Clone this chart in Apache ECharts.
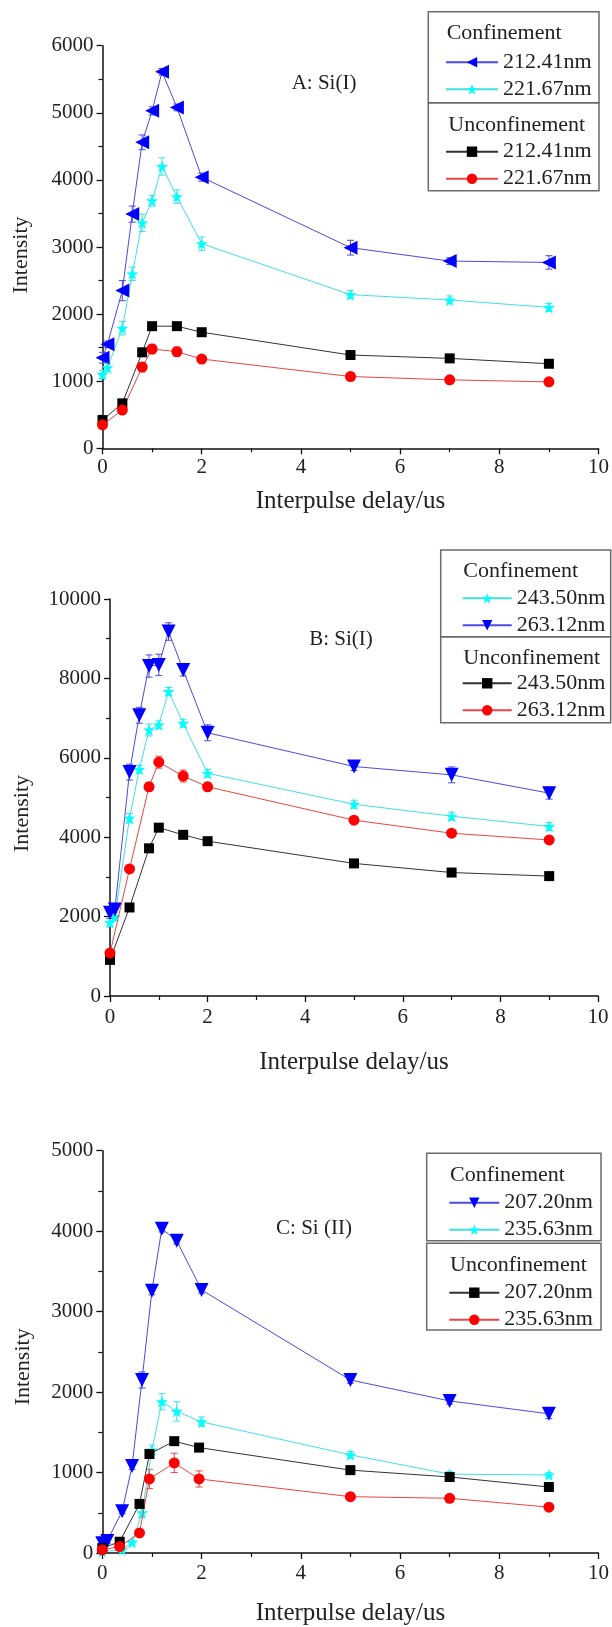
<!DOCTYPE html>
<html>
<head>
<meta charset="utf-8">
<script src="https://cdn.jsdelivr.net/npm/echarts@6/dist/echarts.min.js"></script>
<style>
html,body{margin:0;padding:0;background:#fff;}
#chart{width:612px;height:1627px;}
</style>
</head>
<body>
<div id="chart"></div>
<script>
// ---------------- DATA ----------------
const xTicks = [0, 2, 4, 6, 8, 10];
const xTitle = 'Interpulse delay/us';
const yTitle = 'Intensity';

// Panel A: Si(I)
const A_label = 'A: Si(I)';
const A_waves = ['212.41nm', '221.67nm'];
const A_x_conf = [0, 0.1, 0.4, 0.6, 0.8, 1.0, 1.2, 1.5, 2, 5, 7, 9];
const A_conf_212 = [1350, 1550, 2350, 3490, 4560, 5030, 5610, 5080, 4040, 2990, 2790, 2770];
const A_conf_212_err = [80, 50, 150, 120, 110, 60, 50, 50, 60, 110, 50, 100];
const A_conf_221 = [1100, 1200, 1790, 2600, 3360, 3690, 4200, 3750, 3050, 2290, 2210, 2100];
const A_conf_221_err = [60, 60, 100, 100, 130, 80, 130, 100, 100, 60, 60, 60];
const A_x_unc = [0, 0.4, 0.8, 1.0, 1.5, 2, 5, 7, 9];
const A_unc_212 = [420, 670, 1430, 1820, 1820, 1730, 1390, 1340, 1260];
const A_unc_212_err = [40, 40, 60, 50, 50, 40, 40, 40, 40];
const A_unc_221 = [350, 570, 1210, 1480, 1440, 1330, 1070, 1020, 990];
const A_unc_221_err = [40, 40, 70, 70, 70, 50, 40, 40, 40];

// Panel B: Si(I)
const B_label = 'B: Si(I)';
const B_waves = ['243.50nm', '263.12nm'];
const B_x_conf = [0, 0.1, 0.4, 0.6, 0.8, 1.0, 1.2, 1.5, 2, 5, 7, 9];
const B_conf_243 = [1850, 2000, 4480, 5710, 6700, 6830, 7670, 6870, 5610, 4830, 4530, 4270];
const B_conf_243_err = [100, 100, 120, 100, 150, 100, 100, 100, 100, 100, 100, 100];
const B_conf_263 = [2100, 2180, 5640, 7070, 8310, 8340, 9180, 8210, 6630, 5780, 5570, 5110];
const B_conf_263_err = [150, 150, 200, 200, 280, 270, 220, 150, 200, 100, 200, 150];
const B_x_unc = [0, 0.4, 0.8, 1.0, 1.5, 2, 5, 7, 9];
const B_unc_243 = [910, 2230, 3720, 4240, 4060, 3900, 3340, 3110, 3020];
const B_unc_243_err = [50, 50, 60, 60, 60, 50, 50, 50, 50];
const B_unc_263 = [1080, 3200, 5270, 5890, 5540, 5270, 4430, 4100, 3930];
const B_unc_263_err = [80, 80, 100, 150, 150, 100, 80, 80, 80];

// Panel C: Si (II)
const C_label = 'C: Si (II)';
const C_waves = ['207.20nm', '235.63nm'];
const C_x_conf_207 = [0, 0.1, 0.4, 0.6, 0.8, 1.0, 1.2, 1.5, 2, 5, 7, 9];
const C_conf_207 = [120, 150, 520, 1080, 2150, 3260, 4030, 3880, 3270, 2150, 1890, 1730];
const C_conf_207_err = [30, 30, 30, 40, 100, 50, 40, 40, 40, 40, 40, 60];
const C_x_conf_235 = [0, 0.4, 0.6, 0.8, 1.0, 1.2, 1.5, 2, 5, 7, 9];
const C_conf_235 = [20, 40, 130, 500, 1280, 1880, 1760, 1630, 1220, 980, 970];
const C_conf_235_err = [20, 20, 30, 60, 60, 100, 120, 60, 40, 30, 30];
const C_x_unc = [0, 0.35, 0.75, 0.95, 1.45, 1.95, 5, 7, 9];
const C_unc_207 = [60, 140, 610, 1230, 1390, 1310, 1030, 945, 820];
const C_unc_207_err = [20, 20, 30, 40, 30, 30, 30, 30, 30];
const C_unc_235 = [40, 80, 250, 920, 1120, 920, 700, 680, 570];
const C_unc_235_err = [20, 20, 30, 120, 120, 100, 30, 30, 30];

// ---------------- STYLE ----------------
const FONT = '"Liberation Serif", "Times New Roman", serif';
const TXT = '#222';
const STAR = 'path://M0,-10 L2.35,-3.24 L9.51,-3.09 L3.8,1.24 L5.88,8.09 L0,4 L-5.88,8.09 L-3.8,1.24 L-9.51,-3.09 L-2.35,-3.24 Z';
const STY = {
  blueL: {color: '#0000ff', line: '#4a4ae6', symbol: 'triangle', rotate: 90, size: 14},
  blueD: {color: '#0000ff', line: '#4a4ae6', symbol: 'triangle', rotate: 180, size: 14},
  cyan:  {color: '#00ffff', line: '#40e0e0', symbol: STAR, rotate: 0, size: 12},
  black: {color: '#000000', line: '#333333', symbol: 'rect', rotate: 0, size: 10},
  red:   {color: '#ff0000', line: '#ee4444', symbol: 'circle', rotate: 0, size: 11}
};

const panels = [
  {grid: {left: 102.5, top: 45.7, width: 496, height: 402.6}, ymax: 6000, yint: 1000,
   xLabelMargin: 9, xNameGap: 41, yNameGap: 70, yNamePad: 16,
   label: A_label, labelPos: [324, 83],
   box: [428.3, 11.7, 170.7, 91, 88],
   head: [[446.7, 33.3, 'Confinement'], [448.3, 125, 'Unconfinement']],
   legendPos: [[445, 51.3], [445, 140.7]], itemWidth: 52,
   conf: [
     {name: A_waves[0], x: A_x_conf, y: A_conf_212, e: A_conf_212_err, s: STY.blueL},
     {name: A_waves[1], x: A_x_conf, y: A_conf_221, e: A_conf_221_err, s: STY.cyan}],
   unc: [
     {name: A_waves[0], x: A_x_unc, y: A_unc_212, e: A_unc_212_err, s: STY.black},
     {name: A_waves[1], x: A_x_unc, y: A_unc_221, e: A_unc_221_err, s: STY.red}]
  },
  {grid: {left: 110, top: 599, width: 488, height: 397}, ymax: 10000, yint: 2000,
   xLabelMargin: 11, xNameGap: 54, yNameGap: 77, yNamePad: 32,
   label: B_label, labelPos: [341, 639],
   box: [440.7, 550, 170, 86.7, 86],
   head: [[463.3, 571.7, 'Confinement'], [463.3, 658.3, 'Unconfinement']],
   legendPos: [[461.7, 587.3], [461.7, 672.3]], itemWidth: 49,
   conf: [
     {name: B_waves[0], x: B_x_conf, y: B_conf_243, e: B_conf_243_err, s: STY.cyan},
     {name: B_waves[1], x: B_x_conf, y: B_conf_263, e: B_conf_263_err, s: STY.blueD}],
   unc: [
     {name: B_waves[0], x: B_x_unc, y: B_unc_243, e: B_unc_243_err, s: STY.black},
     {name: B_waves[1], x: B_x_unc, y: B_unc_263, e: B_unc_263_err, s: STY.red}]
  },
  {grid: {left: 102.3, top: 1150.7, width: 496.7, height: 404.8}, ymax: 5000, yint: 1000,
   xLabelMargin: 10, xNameGap: 48, yNameGap: 68, yNamePad: 30,
   label: C_label, labelPos: [314, 1228],
   box: [426.7, 1153.3, 174.3, 87.4, 86.7], boxGap: 2.6,
   head: [[450, 1175, 'Confinement'], [450, 1265, 'Unconfinement']],
   legendPos: [[448.3, 1191.7], [448.3, 1281.7]], itemWidth: 50,
   conf: [
     {name: C_waves[0], x: C_x_conf_207, y: C_conf_207, e: C_conf_207_err, s: STY.blueD},
     {name: C_waves[1], x: C_x_conf_235, y: C_conf_235, e: C_conf_235_err, s: STY.cyan}],
   unc: [
     {name: C_waves[0], x: C_x_unc, y: C_unc_207, e: C_unc_207_err, s: STY.black},
     {name: C_waves[1], x: C_x_unc, y: C_unc_235, e: C_unc_235_err, s: STY.red}]
  }
];

// ---------------- BUILD ----------------
const grid = [], xAxis = [], yAxis = [], series = [], legend = [], graphic = [];

panels.forEach((p, pi) => {
  grid.push(Object.assign({}, p.grid));
  xAxis.push({
    type: 'value', gridIndex: pi, min: xTicks[0], max: xTicks[xTicks.length - 1], interval: xTicks[1] - xTicks[0],
    name: xTitle, nameLocation: 'middle', nameGap: p.xNameGap,
    nameTextStyle: {fontFamily: FONT, fontSize: 25, color: TXT},
    axisLine: {show: true, onZero: false, lineStyle: {color: '#111', width: 1.5}},
    axisTick: {show: true, inside: false, length: 6, lineStyle: {color: '#111', width: 1.3}},
    minorTick: {show: true, splitNumber: 2, length: 4, lineStyle: {color: '#111', width: 1.2}},
    splitLine: {show: false}, minorSplitLine: {show: false},
    axisLabel: {fontFamily: FONT, fontSize: 21, color: TXT, margin: p.xLabelMargin,
      formatter: (v) => String(v)}
  });
  yAxis.push({
    type: 'value', gridIndex: pi, min: 0, max: p.ymax, interval: p.yint,
    name: yTitle, nameLocation: 'middle', nameGap: p.yNameGap,
    nameTextStyle: {fontFamily: FONT, fontSize: 22, color: TXT, padding: [0, p.yNamePad, 0, 0]},
    axisLine: {show: true, onZero: false, lineStyle: {color: '#111', width: 1.5}},
    axisTick: {show: true, inside: false, length: 6, lineStyle: {color: '#111', width: 1.3}},
    minorTick: {show: true, splitNumber: 2, length: 4, lineStyle: {color: '#111', width: 1.2}},
    splitLine: {show: false}, minorSplitLine: {show: false},
    axisLabel: {fontFamily: FONT, fontSize: 21, color: TXT, margin: 9,
      formatter: (v) => String(v)}
  });

  const groups = [['conf', p.conf], ['unc', p.unc]];
  groups.forEach(([gk, list], gi) => {
    const names = [];
    list.forEach((d) => {
      const sname = String.fromCharCode(65 + pi) + gk + '|' + d.name;
      names.push(sname);
      // error bars
      series.push({
        type: 'custom', name: sname + '|err', xAxisIndex: pi, yAxisIndex: pi, z: 2,
        silent: true,
        data: d.x.map((x, i) => [x, d.y[i] - d.e[i], d.y[i] + d.e[i]]),
        encode: {x: 0, y: [1, 2]},
        renderItem: (params, api) => {
          const x = api.value(0);
          const lo = api.coord([x, api.value(1)]);
          const hi = api.coord([x, api.value(2)]);
          const w = 3.5;
          const st = {stroke: d.s.line, lineWidth: 1};
          return {type: 'group', children: [
            {type: 'line', shape: {x1: lo[0], y1: lo[1], x2: hi[0], y2: hi[1]}, style: st},
            {type: 'line', shape: {x1: hi[0] - w, y1: hi[1], x2: hi[0] + w, y2: hi[1]}, style: st},
            {type: 'line', shape: {x1: lo[0] - w, y1: lo[1], x2: lo[0] + w, y2: lo[1]}, style: st}
          ]};
        }
      });
      series.push({
        type: 'line', name: sname, xAxisIndex: pi, yAxisIndex: pi, z: 3 + gi,
        data: d.x.map((x, i) => [x, d.y[i]]),
        symbol: d.s.symbol, symbolRotate: d.s.rotate, symbolSize: d.s.size,
        showAllSymbol: true,
        itemStyle: {color: d.s.color, borderWidth: 0},
        lineStyle: {color: d.s.line, width: 1},
        emphasis: {disabled: true}
      });
    });
    legend.push({
      data: names, orient: 'vertical', left: p.legendPos[gi][0], top: p.legendPos[gi][1],
      padding: 0, itemGap: 5, itemWidth: p.itemWidth, itemHeight: 13,
      selectedMode: false,
      formatter: (n) => n.split('|')[1],
      textStyle: {fontFamily: FONT, fontSize: 22, color: TXT, lineHeight: 22}
    });
  });

  // legend boxes
  const [bx, by, bw, bh1, bh2] = p.box;
  const gap = p.boxGap || 0;
  graphic.push({type: 'rect', shape: {x: bx, y: by, width: bw, height: bh1},
    style: {fill: 'none', stroke: '#6a6a6a', lineWidth: 1.5}, z: 1});
  graphic.push({type: 'rect', shape: {x: bx, y: by + bh1 + gap, width: bw, height: bh2},
    style: {fill: 'none', stroke: '#6a6a6a', lineWidth: 1.5}, z: 1});
  p.head.forEach(h => graphic.push({type: 'text', x: h[0], y: h[1], z: 5,
    style: {text: h[2], fontFamily: FONT, fontSize: 22, fill: TXT, align: 'left', verticalAlign: 'middle'}}));
  graphic.push({type: 'text', x: p.labelPos[0], y: p.labelPos[1], z: 5,
    style: {text: p.label, fontFamily: FONT, fontSize: 21, fill: TXT, align: 'center', verticalAlign: 'middle'}});
});

const chart = echarts.init(document.getElementById('chart'), null, {renderer: 'canvas'});
chart.setOption({
  backgroundColor: '#ffffff',
  animation: false,
  grid, xAxis, yAxis, series, legend, graphic
});
</script>
</body>
</html>
